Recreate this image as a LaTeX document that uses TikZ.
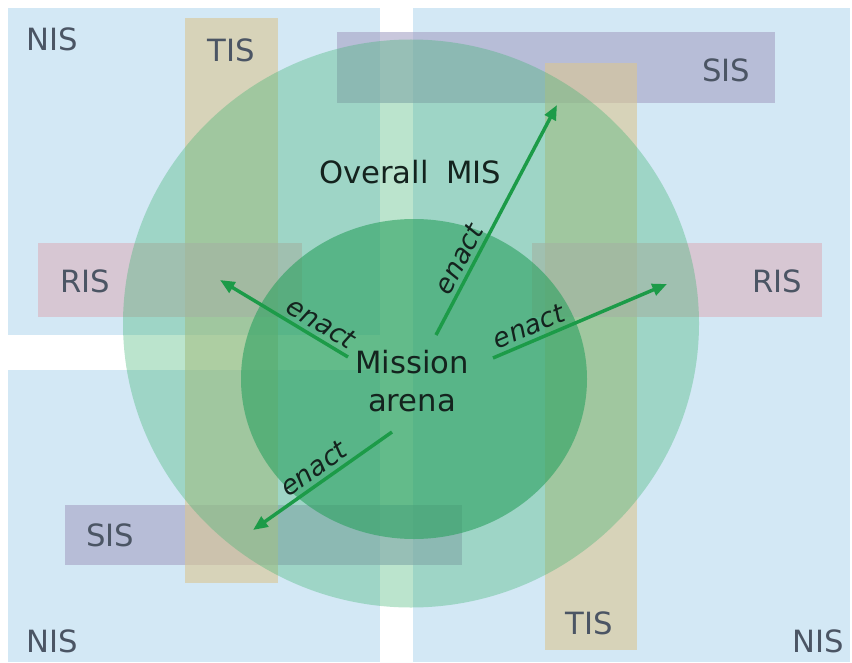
\documentclass[tikz,border=0pt]{standalone}
\usepackage{fontspec}
\setmainfont{DejaVu Sans}
\usetikzlibrary{arrows.meta}

\definecolor{nisblue}{RGB}{211,232,245}
\definecolor{tiscol}{RGB}{219,198,146}
\definecolor{siscol}{RGB}{165,161,196}
\definecolor{riscol}{RGB}{219,178,189}
\definecolor{miscol}{RGB}{60,179,113}
\definecolor{arenacol}{RGB}{46,162,98}
\definecolor{enactcol}{RGB}{28,155,72}
\definecolor{lblgray}{RGB}{75,85,100}
\definecolor{darktext}{RGB}{20,35,30}

\begin{document}
\begin{tikzpicture}[x=0.75pt,y=-0.75pt,
  bar/.style={fill opacity=0.6},
  lbl/.style={text=lblgray,font=\fontsize{23}{27}\selectfont,inner sep=0pt},
  title/.style={text=darktext,font=\fontsize{23}{28}\selectfont,align=center,inner sep=0pt},
  enact/.style={draw=enactcol,line width=2.6pt,-{Triangle[length=11pt,width=9pt]}},
  verb/.style={text=darktext,font=\fontsize{20}{24}\selectfont\itshape,sloped,above=1pt,inner sep=2pt}]
  \useasboundingbox (0,0) rectangle (852,663);

  % NIS quadrants
  \fill[nisblue] (8,8) rectangle (380,335);
  \fill[nisblue] (8,370) rectangle (380,662);
  \fill[nisblue] (413,8) rectangle (850,662);

  % TIS, SIS and RIS bars
  \fill[siscol,bar] (337,32) rectangle (775,103);
  \fill[siscol,bar] (65,505) rectangle (462,565);
  \fill[tiscol,bar] (185,18) rectangle (278,583);
  \fill[tiscol,bar] (545,63) rectangle (637,650);
  \fill[riscol,bar] (38,243) rectangle (302,317);
  \fill[riscol,bar] (532,243) rectangle (822,317);

  % Overall MIS and mission arena
  \fill[miscol,fill opacity=0.35] (411,323.5) ellipse [x radius=288, y radius=284];
  \fill[arenacol,fill opacity=0.62] (414,379) ellipse [x radius=173, y radius=160];

  % Labels
  \node[lbl] (nisA) at (52,39) {NIS};
  \node[lbl] (nisB) at (52,641) {NIS};
  \node[lbl] (nisC) at (818,641) {NIS};
  \node[lbl] (tisA) at (231,50) {TIS};
  \node[lbl] (tisB) at (589,623) {TIS};
  \node[lbl] (sisA) at (726,70) {SIS};
  \node[lbl] (sisB) at (110,535) {SIS};
  \node[lbl] (risA) at (85,281) {RIS};
  \node[lbl] (risB) at (777,281) {RIS};
  \node[title] (mis) at (410,172) {Overall\hspace{0.25em} MIS};
  \node[title] (arena) at (412,381) {Mission\\arena};

  % Enact arrows
  \coordinate (upS) at (436,335);
  \coordinate (upE) at (557,105);
  \coordinate (leftS) at (348,357);
  \coordinate (leftE) at (220,280);
  \coordinate (rightS) at (493,358);
  \coordinate (rightE) at (667,284);
  \coordinate (downS) at (392,432);
  \coordinate (downE) at (253,530);

  \draw[enact] (upS) -- node[verb,pos=0.3] {enact} (upE);
  \draw[enact] (leftS) -- node[verb,pos=0.27] {enact} (leftE);
  \draw[enact] (rightS) -- node[verb,pos=0.24] {enact} (rightE);
  \draw[enact] (downS) -- node[verb,pos=0.5] {enact} (downE);
\end{tikzpicture}
\end{document}
